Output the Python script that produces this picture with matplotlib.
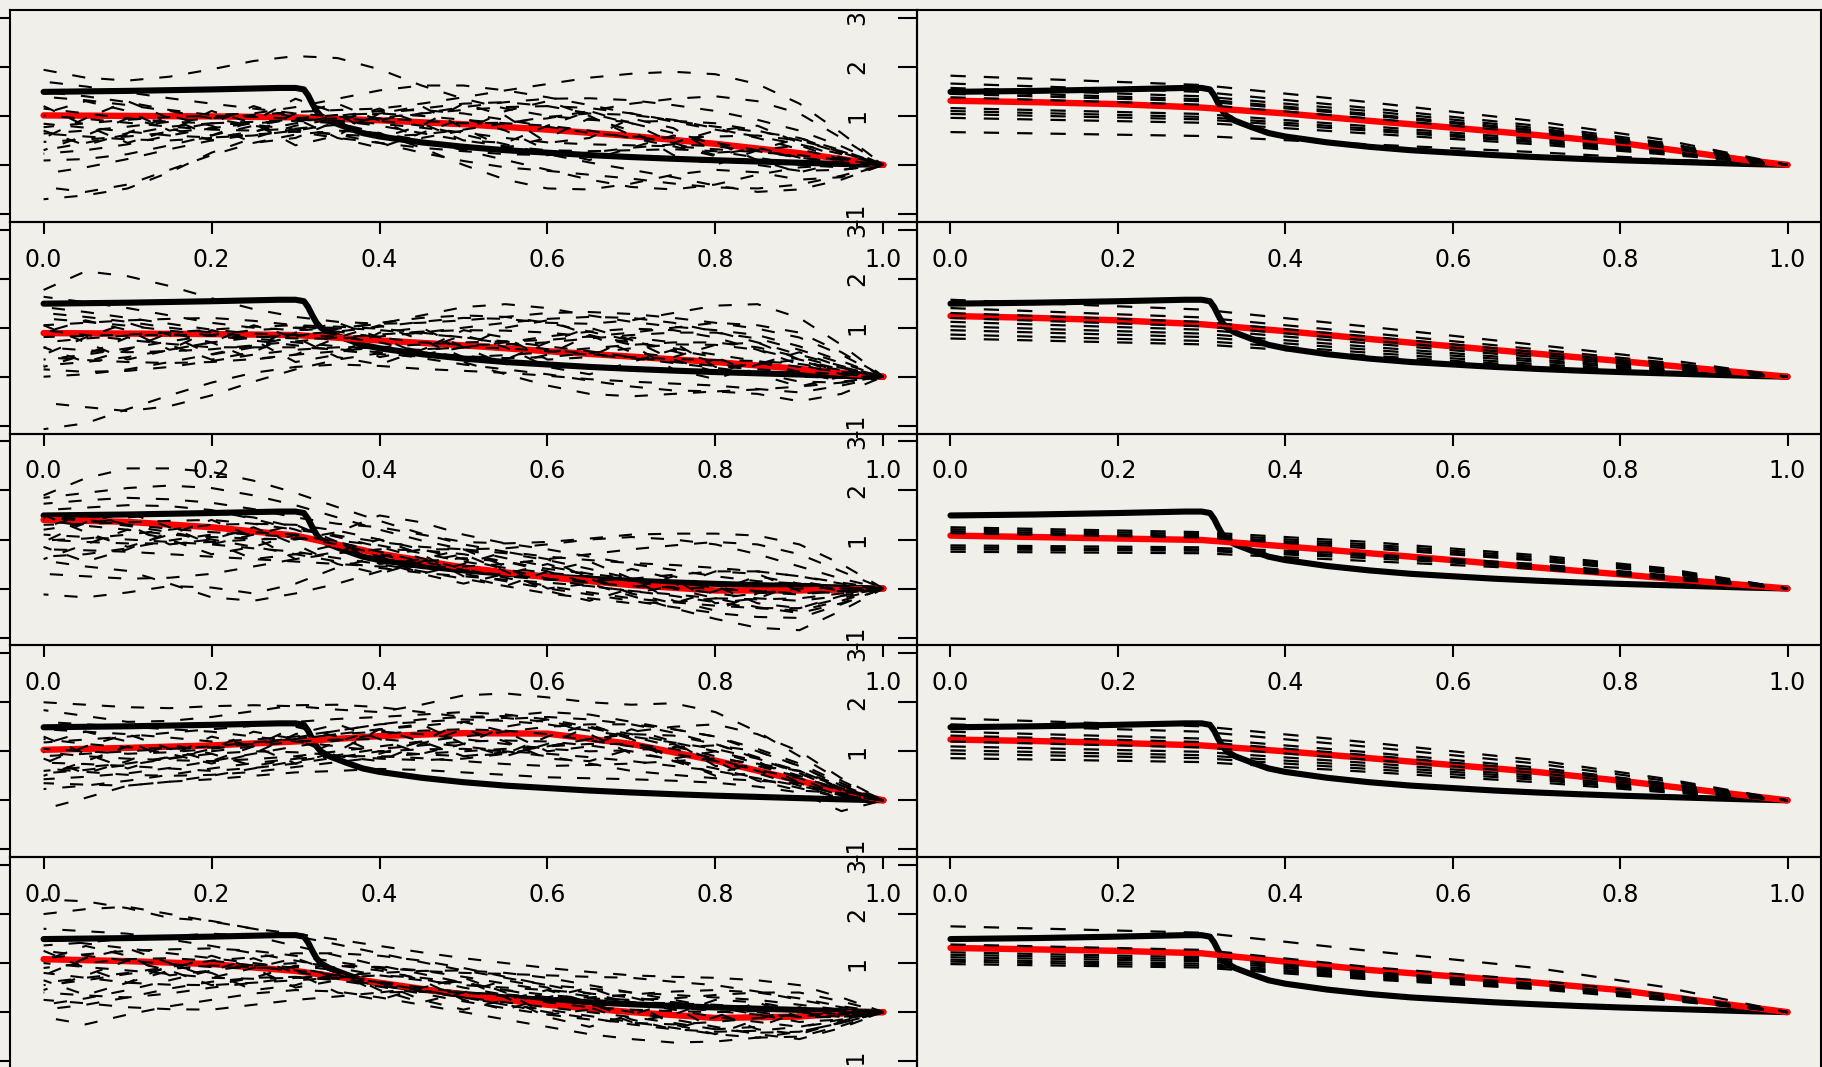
import matplotlib
matplotlib.use("Agg")
import matplotlib.pyplot as plt

plt.rcParams['font.family'] = ['DejaVu Sans']
plt.rcParams['lines.scale_dashes'] = False

bg = '#f0efe9'

# common thick black curve (same in every panel)
x_black = [0.0, 0.1, 0.2, 0.28, 0.30, 0.31, 0.315, 0.32, 0.325, 0.33, 0.34, 0.36,
           0.38, 0.40, 0.45, 0.50, 0.55, 0.60, 0.65, 0.70, 0.75, 0.80, 0.85, 0.90, 0.95, 1.0]
black = [1.49, 1.51, 1.54, 1.57, 1.57, 1.54, 1.42, 1.25, 1.10, 1.00, 0.90, 0.77,
         0.65, 0.58, 0.46, 0.37, 0.30, 0.25, 0.20, 0.16, 0.125, 0.095, 0.07, 0.045, 0.02, 0.0]

# grid for the red curves
x_red = [0.0, 0.1, 0.2, 0.3, 0.4, 0.5, 0.6, 0.7, 0.8, 0.9, 0.95, 1.0]
# grid for the wavy dashed curves (left column)
x_wavy = [0.0, 0.05, 0.1, 0.15, 0.2, 0.25, 0.3, 0.35, 0.4, 0.45, 0.5,
          0.55, 0.6, 0.65, 0.7, 0.75, 0.8, 0.85, 0.9, 0.95, 1.0]
# grid for the fan of dashed lines (right column)
x_fan = [0.0, 0.3, 0.5, 0.7, 0.85, 1.0]

red_left = [
    [1.01, 1.00, 0.99, 0.97, 0.91, 0.83, 0.72, 0.59, 0.43, 0.24, 0.12, 0.0],
    [0.89, 0.88, 0.87, 0.85, 0.74, 0.64, 0.52, 0.41, 0.30, 0.16, 0.08, 0.0],
    [1.40, 1.36, 1.25, 1.08, 0.71, 0.43, 0.23, 0.07, -0.04, -0.04, -0.02, 0.0],
    [1.03, 1.07, 1.12, 1.20, 1.31, 1.37, 1.36, 1.15, 0.81, 0.40, 0.19, 0.0],
    [1.08, 1.04, 0.98, 0.84, 0.60, 0.35, 0.15, 0.00, -0.12, -0.09, -0.03, 0.0],
]
red_right = [
    [1.31, 1.28, 1.24, 1.17, 1.05, 0.90, 0.76, 0.61, 0.45, 0.22, 0.10, 0.0],
    [1.24, 1.20, 1.15, 1.07, 0.93, 0.77, 0.62, 0.47, 0.32, 0.16, 0.08, 0.0],
    [1.08, 1.05, 1.02, 0.99, 0.86, 0.72, 0.58, 0.43, 0.29, 0.14, 0.07, 0.0],
    [1.24, 1.21, 1.17, 1.12, 1.00, 0.86, 0.72, 0.58, 0.40, 0.20, 0.10, 0.0],
    [1.31, 1.28, 1.25, 1.20, 1.03, 0.86, 0.73, 0.60, 0.45, 0.22, 0.11, 0.0],
]

wavy1 = [
    [1.94, 1.78, 1.72, 1.80, 1.95, 2.12, 2.22, 2.18, 1.95, 1.62, 1.35, 1.15, 1.00, 0.92, 0.88, 0.90, 0.85, 0.70, 0.50, 0.25, 0],
    [-0.70, -0.62, -0.48, -0.15, 0.25, 0.55, 0.80, 0.95, 1.05, 1.15, 1.25, 1.28, 1.20, 1.05, 0.85, 0.65, 0.45, 0.30, 0.15, 0.05, 0],
    [-0.45, -0.55, -0.40, -0.10, 0.20, 0.45, 0.62, 0.70, 0.65, 0.50, 0.30, 0.10, -0.10, -0.30, -0.45, -0.50, -0.40, -0.20, -0.05, 0.00, 0],
    [0.64, 0.70, 0.78, 0.88, 0.95, 1.02, 1.08, 1.12, 1.15, 1.25, 1.38, 1.52, 1.65, 1.78, 1.86, 1.90, 1.85, 1.65, 1.25, 0.65, 0],
    [0.23, 0.30, 0.42, 0.60, 0.75, 0.85, 0.90, 0.85, 0.65, 0.35, 0.00, -0.30, -0.48, -0.50, -0.38, -0.20, -0.10, -0.15, -0.30, -0.25, 0],
    [1.49, 1.40, 1.28, 1.12, 1.02, 1.05, 1.18, 1.35, 1.52, 1.62, 1.62, 1.52, 1.38, 1.22, 1.05, 0.88, 0.72, 0.58, 0.42, 0.22, 0],
    [0.84, 0.76, 0.68, 0.60, 0.56, 0.60, 0.70, 0.84, 0.96, 1.05, 1.12, 1.18, 1.20, 1.16, 1.05, 0.90, 0.78, 0.68, 0.55, 0.30, 0],
    [0.47, 0.52, 0.58, 0.66, 0.75, 0.85, 0.92, 0.95, 0.90, 0.80, 0.62, 0.42, 0.22, 0.05, -0.10, -0.25, -0.42, -0.55, -0.50, -0.30, 0],
    [1.39, 1.32, 1.22, 1.10, 0.95, 0.80, 0.68, 0.55, 0.45, 0.35, 0.28, 0.22, 0.20, 0.25, 0.35, 0.42, 0.38, 0.28, 0.15, 0.05, 0],
    [0.09, 0.12, 0.22, 0.40, 0.60, 0.80, 0.95, 1.02, 1.05, 1.00, 0.92, 0.85, 0.80, 0.70, 0.55, 0.38, 0.18, 0.00, -0.12, -0.10, 0],
    [-0.18, -0.05, 0.12, 0.32, 0.50, 0.62, 0.68, 0.62, 0.45, 0.25, 0.08, -0.05, -0.12, -0.20, -0.28, -0.38, -0.46, -0.48, -0.40, -0.22, 0],
    [1.70, 1.60, 1.48, 1.36, 1.25, 1.15, 1.05, 0.98, 0.95, 0.90, 0.85, 0.86, 0.95, 1.10, 1.25, 1.35, 1.40, 1.30, 1.05, 0.55, 0],
    [0.77, 0.85, 0.92, 0.98, 1.00, 0.98, 0.94, 0.90, 0.84, 0.76, 0.66, 0.55, 0.46, 0.42, 0.40, 0.38, 0.32, 0.26, 0.20, 0.10, 0],
    [1.01, 0.94, 0.86, 0.78, 0.72, 0.70, 0.74, 0.82, 0.92, 1.05, 1.18, 1.28, 1.35, 1.36, 1.32, 1.22, 1.10, 0.92, 0.70, 0.38, 0],
    [0.64, 0.58, 0.52, 0.50, 0.55, 0.68, 0.85, 1.00, 1.10, 1.12, 1.05, 0.92, 0.78, 0.65, 0.58, 0.55, 0.58, 0.60, 0.50, 0.28, 0],
    [1.15, 1.05, 0.95, 0.88, 0.85, 0.88, 0.92, 0.90, 0.80, 0.65, 0.50, 0.38, 0.30, 0.28, 0.30, 0.32, 0.28, 0.15, 0.00, -0.05, 0],
    [0.30, 0.45, 0.62, 0.78, 0.85, 0.82, 0.72, 0.62, 0.58, 0.62, 0.72, 0.85, 0.98, 1.05, 1.02, 0.92, 0.75, 0.55, 0.32, 0.12, 0],
    [0.55, 0.95, 1.30, 0.95, 0.60, 0.90, 1.35, 1.05, 0.55, 0.80, 1.25, 1.00, 0.45, 0.55, 0.95, 0.75, 0.25, 0.30, 0.55, 0.25, 0],
    [1.20, 0.80, 0.45, 0.70, 1.10, 0.85, 0.40, 0.60, 1.05, 1.20, 0.75, 0.35, 0.55, 0.95, 0.70, 0.20, 0.00, 0.30, 0.40, 0.10, 0],
    [0.30, 0.60, 0.95, 0.75, 0.50, 0.65, 1.05, 1.25, 0.90, 0.55, 0.70, 1.10, 1.30, 1.00, 0.60, 0.45, 0.70, 0.80, 0.45, 0.15, 0],
    [1.05, 1.30, 1.10, 0.70, 0.85, 1.20, 0.95, 0.55, 0.35, 0.65, 0.95, 0.70, 0.30, 0.10, 0.35, 0.60, 0.45, 0.10, -0.15, 0.05, 0],
    [0.70, 0.40, 0.65, 1.00, 0.80, 0.45, 0.55, 0.90, 1.15, 0.85, 0.50, 0.45, 0.80, 1.10, 0.85, 0.45, 0.20, 0.35, 0.15, -0.10, 0],
]
wavy2 = [
    [1.77, 2.15, 2.05, 1.85, 1.60, 1.38, 1.22, 1.12, 1.08, 1.10, 1.15, 1.22, 1.30, 1.32, 1.28, 1.20, 1.10, 0.98, 0.80, 0.45, 0],
    [-1.07, -0.95, -0.66, -0.38, -0.12, 0.08, 0.20, 0.25, 0.22, 0.16, 0.12, 0.08, 0.02, -0.05, -0.10, -0.14, -0.18, -0.25, -0.32, -0.18, 0],
    [-0.53, -0.62, -0.70, -0.60, -0.38, -0.10, 0.15, 0.35, 0.48, 0.56, 0.60, 0.58, 0.52, 0.45, 0.38, 0.28, 0.18, 0.08, 0.00, -0.02, 0],
    [1.63, 1.52, 1.40, 1.25, 1.10, 1.00, 0.95, 0.98, 1.08, 1.25, 1.42, 1.48, 1.40, 1.25, 1.12, 1.02, 0.95, 0.85, 0.62, 0.32, 0],
    [0.23, 0.30, 0.40, 0.55, 0.70, 0.80, 0.85, 0.82, 0.70, 0.52, 0.30, 0.05, -0.18, -0.35, -0.40, -0.35, -0.30, -0.35, -0.50, -0.35, 0],
    [1.42, 1.32, 1.20, 1.08, 0.96, 0.88, 0.86, 0.92, 1.02, 1.12, 1.20, 1.18, 1.10, 1.08, 1.15, 1.30, 1.45, 1.48, 1.20, 0.65, 0],
    [0.81, 0.83, 0.86, 0.90, 0.96, 1.02, 1.05, 1.02, 0.98, 0.90, 0.80, 0.68, 0.56, 0.46, 0.40, 0.36, 0.34, 0.32, 0.26, 0.14, 0],
    [0.60, 0.54, 0.50, 0.52, 0.56, 0.64, 0.72, 0.80, 0.86, 0.92, 0.95, 0.94, 0.90, 0.82, 0.70, 0.58, 0.45, 0.32, 0.20, 0.10, 0],
    [1.19, 1.12, 1.04, 0.94, 0.84, 0.74, 0.64, 0.54, 0.46, 0.41, 0.40, 0.44, 0.50, 0.58, 0.65, 0.70, 0.70, 0.60, 0.40, 0.18, 0],
    [0.00, 0.05, 0.15, 0.30, 0.46, 0.64, 0.82, 0.98, 1.10, 1.20, 1.25, 1.22, 1.10, 0.92, 0.74, 0.52, 0.30, 0.08, -0.10, -0.12, 0],
    [0.40, 0.34, 0.30, 0.28, 0.30, 0.36, 0.45, 0.52, 0.60, 0.66, 0.70, 0.72, 0.75, 0.82, 0.90, 1.00, 1.10, 1.05, 0.90, 0.50, 0],
    [0.95, 0.85, 0.75, 0.67, 0.60, 0.60, 0.60, 0.56, 0.50, 0.38, 0.25, 0.15, 0.05, -0.08, -0.20, -0.28, -0.30, -0.26, -0.20, -0.12, 0],
    [1.05, 1.10, 1.15, 1.18, 1.20, 1.14, 1.05, 0.92, 0.80, 0.70, 0.65, 0.66, 0.70, 0.78, 0.85, 0.90, 0.90, 0.78, 0.55, 0.28, 0],
    [0.35, 0.45, 0.58, 0.72, 0.85, 0.95, 1.00, 1.00, 0.95, 0.88, 0.80, 0.72, 0.62, 0.52, 0.40, 0.30, 0.22, 0.15, 0.10, 0.05, 0],
    [1.30, 1.22, 1.12, 1.00, 0.90, 0.82, 0.78, 0.78, 0.82, 0.90, 1.00, 1.10, 1.18, 1.22, 1.20, 1.10, 0.92, 0.70, 0.45, 0.22, 0],
    [0.15, 0.10, 0.12, 0.20, 0.32, 0.45, 0.55, 0.60, 0.58, 0.50, 0.42, 0.38, 0.40, 0.48, 0.58, 0.66, 0.65, 0.55, 0.35, 0.15, 0],
    [0.70, 0.78, 0.84, 0.86, 0.84, 0.78, 0.70, 0.62, 0.56, 0.55, 0.60, 0.70, 0.82, 0.92, 0.98, 0.95, 0.80, 0.55, 0.25, 0.05, 0],
    [0.45, 0.80, 1.10, 0.85, 0.45, 0.60, 1.00, 0.85, 0.40, 0.55, 0.95, 0.80, 0.35, 0.40, 0.80, 0.70, 0.20, 0.25, 0.50, 0.20, 0],
    [1.05, 0.70, 0.35, 0.55, 0.95, 0.75, 0.30, 0.45, 0.90, 1.00, 0.60, 0.25, 0.45, 0.85, 0.65, 0.15, -0.05, 0.25, 0.35, 0.05, 0],
    [0.20, 0.45, 0.80, 0.65, 0.35, 0.50, 0.90, 1.10, 0.80, 0.45, 0.60, 1.00, 1.15, 0.85, 0.50, 0.40, 0.65, 0.70, 0.35, 0.10, 0],
    [0.90, 1.15, 0.95, 0.55, 0.70, 1.05, 0.80, 0.40, 0.25, 0.55, 0.85, 0.60, 0.20, 0.05, 0.30, 0.55, 0.40, 0.05, -0.20, 0.00, 0],
    [0.60, 0.30, 0.55, 0.90, 0.70, 0.35, 0.45, 0.80, 1.05, 0.75, 0.40, 0.35, 0.70, 1.00, 0.75, 0.35, 0.10, 0.30, 0.10, -0.10, 0],
]
wavy3 = [
    [1.90, 2.25, 2.45, 2.45, 2.38, 2.20, 1.95, 1.66, 1.38, 1.12, 0.90, 0.75, 0.65, 0.58, 0.52, 0.48, 0.42, 0.35, 0.25, 0.12, 0],
    [-0.12, -0.18, -0.08, 0.05, 0.02, -0.10, 0.10, 0.43, 0.65, 0.80, 0.80, 0.72, 0.58, 0.40, 0.20, 0.00, -0.20, -0.38, -0.50, -0.30, 0],
    [0.57, 0.45, 0.36, 0.10, -0.18, -0.25, -0.10, 0.10, 0.35, 0.55, 0.62, 0.55, 0.35, 0.10, -0.15, -0.40, -0.62, -0.80, -0.85, -0.45, 0],
    [1.73, 1.80, 1.85, 1.82, 1.75, 1.62, 1.45, 1.32, 1.25, 1.10, 0.95, 0.92, 0.95, 1.02, 1.10, 1.12, 1.12, 1.08, 0.90, 0.50, 0],
    [1.39, 1.28, 1.20, 1.10, 1.05, 1.02, 1.00, 1.15, 1.49, 1.35, 1.10, 0.92, 0.80, 0.65, 0.50, 0.38, 0.25, 0.15, 0.10, 0.05, 0],
    [0.98, 1.02, 1.10, 1.20, 1.30, 1.32, 1.30, 1.18, 1.00, 0.80, 0.60, 0.40, 0.20, 0.05, -0.05, -0.12, -0.20, -0.22, -0.20, -0.10, 0],
    [1.20, 1.32, 1.45, 1.52, 1.55, 1.45, 1.25, 1.05, 0.85, 0.62, 0.40, 0.22, 0.05, -0.08, -0.20, -0.28, -0.35, -0.40, -0.40, -0.20, 0],
    [1.50, 1.40, 1.30, 1.22, 1.15, 1.10, 1.05, 0.90, 0.70, 0.50, 0.30, 0.15, 0.00, -0.12, -0.25, -0.38, -0.50, -0.58, -0.60, -0.32, 0],
    [0.80, 0.78, 0.75, 0.70, 0.65, 0.60, 0.55, 0.50, 0.45, 0.44, 0.45, 0.50, 0.60, 0.70, 0.80, 0.88, 0.95, 0.90, 0.70, 0.35, 0],
    [1.10, 1.05, 1.00, 0.95, 0.90, 0.82, 0.75, 0.62, 0.50, 0.35, 0.20, 0.05, -0.10, -0.20, -0.30, -0.28, -0.20, -0.10, 0.00, 0.02, 0],
    [1.60, 1.65, 1.70, 1.68, 1.60, 1.42, 1.20, 0.92, 0.65, 0.48, 0.35, 0.28, 0.20, 0.12, 0.05, 0.02, 0.00, -0.05, -0.10, -0.05, 0],
    [0.30, 0.25, 0.20, 0.22, 0.30, 0.45, 0.60, 0.72, 0.80, 0.78, 0.70, 0.55, 0.40, 0.30, 0.20, 0.15, 0.10, 0.10, 0.10, 0.05, 0],
    [1.30, 1.32, 1.35, 1.38, 1.40, 1.32, 1.20, 1.08, 0.95, 0.85, 0.80, 0.82, 0.90, 1.00, 1.05, 1.00, 0.90, 0.70, 0.45, 0.20, 0],
    [1.45, 1.38, 1.28, 1.15, 1.00, 0.85, 0.70, 0.55, 0.42, 0.32, 0.25, 0.18, 0.12, 0.05, -0.05, -0.15, -0.28, -0.40, -0.45, -0.25, 0],
    [0.65, 0.70, 0.82, 0.98, 1.10, 1.15, 1.10, 0.95, 0.75, 0.55, 0.38, 0.25, 0.18, 0.15, 0.20, 0.28, 0.35, 0.35, 0.25, 0.10, 0],
    [1.85, 1.95, 2.05, 2.10, 2.05, 1.90, 1.70, 1.45, 1.20, 0.98, 0.80, 0.62, 0.45, 0.30, 0.15, 0.02, -0.10, -0.20, -0.25, -0.15, 0],
    [1.00, 0.95, 0.92, 0.92, 0.95, 1.00, 1.02, 0.98, 0.88, 0.72, 0.55, 0.42, 0.32, 0.25, 0.20, 0.12, 0.02, -0.08, -0.12, -0.05, 0],
    [0.95, 1.35, 1.55, 1.25, 0.90, 1.10, 1.30, 0.95, 0.50, 0.60, 0.80, 0.45, 0.00, 0.10, 0.40, 0.20, -0.30, -0.20, 0.10, -0.05, 0],
    [1.50, 1.15, 0.85, 1.10, 1.40, 1.05, 0.60, 0.75, 1.00, 0.70, 0.25, 0.05, 0.35, 0.55, 0.20, -0.25, -0.45, -0.10, 0.15, 0.00, 0],
    [0.60, 0.90, 1.20, 1.00, 0.70, 0.85, 1.10, 0.95, 0.55, 0.30, 0.50, 0.75, 0.60, 0.20, -0.10, 0.05, 0.35, 0.30, -0.05, -0.10, 0],
    [1.25, 1.50, 1.30, 0.90, 1.00, 1.25, 0.90, 0.50, 0.30, 0.55, 0.70, 0.35, -0.05, -0.25, 0.00, 0.25, 0.05, -0.30, -0.40, -0.15, 0],
    [0.85, 0.55, 0.80, 1.15, 0.95, 0.60, 0.70, 0.90, 0.65, 0.30, 0.10, 0.30, 0.50, 0.25, -0.10, -0.30, -0.05, 0.25, 0.10, -0.05, 0],
]
wavy4 = [
    [2.00, 1.95, 1.90, 1.88, 1.92, 1.94, 1.92, 1.85, 1.80, 1.95, 2.14, 2.18, 2.10, 2.00, 1.95, 1.98, 1.80, 1.40, 0.90, 0.40, 0],
    [1.84, 1.72, 1.60, 1.62, 1.70, 1.82, 1.94, 1.95, 1.90, 1.80, 1.70, 1.72, 1.80, 1.75, 1.60, 1.45, 1.30, 1.05, 0.75, 0.35, 0],
    [-0.18, 0.05, 0.30, 0.38, 0.43, 0.50, 0.57, 0.60, 0.64, 0.62, 0.57, 0.52, 0.47, 0.45, 0.43, 0.40, 0.36, 0.28, 0.16, -0.22, 0],
    [1.18, 1.24, 1.30, 1.38, 1.45, 1.52, 1.60, 1.66, 1.70, 1.75, 1.80, 1.75, 1.65, 1.50, 1.35, 1.18, 1.00, 0.75, 0.50, 0.20, 0],
    [0.98, 0.90, 0.85, 0.82, 0.80, 0.84, 0.90, 1.00, 1.10, 1.20, 1.30, 1.40, 1.50, 1.55, 1.55, 1.45, 1.30, 1.00, 0.70, 0.30, 0],
    [0.77, 0.74, 0.70, 0.65, 0.60, 0.66, 0.75, 0.88, 1.00, 1.04, 1.05, 1.00, 0.95, 0.88, 0.80, 0.70, 0.60, 0.45, 0.30, 0.10, 0],
    [0.43, 0.48, 0.55, 0.66, 0.80, 0.95, 1.10, 1.22, 1.35, 1.42, 1.45, 1.42, 1.35, 1.22, 1.10, 0.95, 0.80, 0.62, 0.45, 0.20, 0],
    [0.23, 0.30, 0.40, 0.52, 0.65, 0.76, 0.85, 0.90, 0.90, 0.86, 0.80, 0.74, 0.70, 0.72, 0.75, 0.80, 0.85, 0.75, 0.60, 0.30, 0],
    [1.45, 1.40, 1.35, 1.28, 1.20, 1.24, 1.30, 1.42, 1.55, 1.60, 1.65, 1.62, 1.55, 1.42, 1.30, 1.18, 1.05, 0.85, 0.60, 0.25, 0],
    [0.60, 0.68, 0.75, 0.88, 1.00, 1.10, 1.20, 1.24, 1.25, 1.18, 1.10, 1.00, 0.90, 0.75, 0.60, 0.52, 0.45, 0.40, 0.35, 0.10, 0],
    [1.60, 1.55, 1.50, 1.45, 1.40, 1.30, 1.20, 1.10, 1.00, 0.94, 0.90, 0.98, 1.10, 1.25, 1.40, 1.50, 1.55, 1.35, 1.00, 0.45, 0],
    [0.90, 0.95, 1.00, 1.05, 1.10, 1.18, 1.25, 1.35, 1.45, 1.52, 1.60, 1.66, 1.70, 1.65, 1.55, 1.38, 1.15, 0.85, 0.55, 0.25, 0],
    [0.35, 0.32, 0.30, 0.38, 0.50, 0.65, 0.80, 0.92, 1.05, 1.12, 1.20, 1.22, 1.20, 1.12, 1.00, 0.82, 0.65, 0.45, 0.25, 0.05, 0],
    [1.25, 1.15, 1.08, 1.05, 1.08, 1.15, 1.25, 1.35, 1.40, 1.35, 1.25, 1.15, 1.05, 1.00, 1.02, 1.08, 1.12, 1.00, 0.70, 0.30, 0],
    [0.55, 0.62, 0.72, 0.85, 0.95, 1.00, 0.98, 0.92, 0.85, 0.82, 0.85, 0.95, 1.10, 1.25, 1.35, 1.32, 1.15, 0.88, 0.55, 0.20, 0],
    [1.05, 1.00, 0.95, 0.98, 1.05, 1.15, 1.28, 1.42, 1.55, 1.65, 1.70, 1.68, 1.60, 1.48, 1.30, 1.10, 0.90, 0.70, 0.48, 0.22, 0],
    [0.65, 0.58, 0.52, 0.50, 0.52, 0.58, 0.68, 0.78, 0.88, 0.95, 1.00, 1.05, 1.10, 1.15, 1.15, 1.05, 0.85, 0.60, 0.35, 0.12, 0],
    [0.75, 1.10, 1.35, 1.05, 0.80, 1.10, 1.50, 1.30, 0.95, 1.20, 1.60, 1.40, 1.00, 1.10, 1.45, 1.20, 0.70, 0.70, 0.60, 0.25, 0],
    [1.30, 0.95, 0.65, 0.90, 1.30, 1.10, 0.75, 1.00, 1.45, 1.55, 1.15, 0.90, 1.15, 1.50, 1.25, 0.80, 0.55, 0.75, 0.45, 0.10, 0],
    [0.50, 0.80, 1.10, 0.95, 0.75, 0.95, 1.35, 1.55, 1.25, 0.95, 1.15, 1.50, 1.65, 1.35, 0.95, 0.85, 1.00, 0.80, 0.35, 0.10, 0],
    [1.15, 1.40, 1.20, 0.85, 1.05, 1.40, 1.25, 0.90, 0.80, 1.15, 1.45, 1.20, 0.85, 0.80, 1.05, 1.15, 0.80, 0.40, 0.20, 0.15, 0],
    [0.85, 0.55, 0.80, 1.15, 0.95, 0.70, 0.85, 1.20, 1.45, 1.20, 0.90, 0.95, 1.30, 1.55, 1.25, 0.85, 0.50, 0.55, 0.30, 0.05, 0],
]
wavy5 = [
    [2.00, 2.10, 2.15, 2.00, 1.85, 1.70, 1.55, 1.38, 1.20, 1.02, 0.85, 0.70, 0.55, 0.48, 0.40, 0.35, 0.30, 0.25, 0.15, 0.05, 0],
    [2.30, 2.26, 2.12, 1.92, 1.86, 1.70, 1.60, 1.48, 1.35, 1.22, 1.10, 1.00, 0.90, 0.82, 0.75, 0.72, 0.70, 0.65, 0.55, 0.30, 0],
    [-0.10, -0.25, -0.05, 0.12, 0.25, 0.38, 0.45, 0.42, 0.30, 0.15, 0.00, -0.15, -0.30, -0.45, -0.55, -0.62, -0.60, -0.52, -0.40, -0.22, 0],
    [1.36, 1.42, 1.50, 1.55, 1.60, 1.55, 1.35, 1.15, 0.95, 0.78, 0.60, 0.45, 0.35, 0.28, 0.25, 0.28, 0.35, 0.40, 0.40, 0.22, 0],
    [0.40, 0.34, 0.30, 0.38, 0.50, 0.60, 0.70, 0.68, 0.60, 0.45, 0.30, 0.15, 0.05, -0.08, -0.20, -0.32, -0.45, -0.52, -0.50, -0.28, 0],
    [1.10, 1.18, 1.25, 1.28, 1.30, 1.25, 1.15, 1.02, 0.90, 0.84, 0.80, 0.78, 0.75, 0.72, 0.70, 0.62, 0.55, 0.42, 0.25, 0.10, 0],
    [0.80, 0.70, 0.60, 0.56, 0.55, 0.60, 0.65, 0.70, 0.75, 0.70, 0.60, 0.45, 0.30, 0.15, 0.00, -0.15, -0.30, -0.45, -0.55, -0.32, 0],
    [1.70, 1.65, 1.60, 1.48, 1.35, 1.20, 1.05, 0.90, 0.75, 0.65, 0.55, 0.50, 0.45, 0.38, 0.30, 0.20, 0.10, 0.00, -0.10, -0.10, 0],
    [0.15, 0.28, 0.45, 0.65, 0.85, 0.95, 1.00, 0.95, 0.85, 0.68, 0.50, 0.35, 0.20, 0.10, 0.05, 0.02, 0.00, 0.02, 0.05, 0.02, 0],
    [1.00, 0.92, 0.85, 0.78, 0.70, 0.68, 0.70, 0.75, 0.80, 0.84, 0.85, 0.80, 0.70, 0.55, 0.40, 0.25, 0.10, -0.05, -0.20, -0.15, 0],
    [0.60, 0.70, 0.80, 0.92, 1.05, 1.12, 1.20, 1.20, 1.15, 1.05, 0.90, 0.72, 0.55, 0.38, 0.20, 0.05, -0.10, -0.20, -0.30, -0.18, 0],
    [1.50, 1.40, 1.30, 1.20, 1.10, 1.00, 0.90, 0.75, 0.60, 0.45, 0.30, 0.15, 0.00, -0.12, -0.25, -0.35, -0.40, -0.38, -0.30, -0.15, 0],
    [0.25, 0.18, 0.10, 0.06, 0.05, 0.15, 0.25, 0.32, 0.40, 0.42, 0.40, 0.36, 0.30, 0.25, 0.20, 0.18, 0.15, 0.10, 0.05, 0.02, 0],
    [0.55, 0.65, 0.78, 0.88, 0.95, 0.92, 0.85, 0.75, 0.62, 0.50, 0.40, 0.32, 0.28, 0.30, 0.36, 0.42, 0.45, 0.40, 0.28, 0.12, 0],
    [1.25, 1.15, 1.05, 0.98, 0.92, 0.90, 0.92, 0.95, 0.92, 0.85, 0.72, 0.58, 0.45, 0.32, 0.20, 0.10, 0.02, -0.05, -0.08, -0.05, 0],
    [0.90, 1.00, 1.08, 1.10, 1.05, 0.95, 0.82, 0.68, 0.55, 0.42, 0.30, 0.20, 0.10, 0.00, -0.10, -0.22, -0.35, -0.42, -0.40, -0.22, 0],
    [0.05, 0.15, 0.30, 0.48, 0.62, 0.70, 0.72, 0.65, 0.52, 0.38, 0.22, 0.08, -0.05, -0.15, -0.22, -0.25, -0.20, -0.12, -0.05, -0.02, 0],
    [0.75, 1.10, 1.30, 1.00, 0.70, 0.90, 1.10, 0.80, 0.40, 0.50, 0.70, 0.40, -0.05, 0.05, 0.30, 0.10, -0.35, -0.30, 0.00, -0.10, 0],
    [1.25, 0.90, 0.60, 0.85, 1.15, 0.90, 0.50, 0.65, 0.90, 0.65, 0.25, 0.05, 0.30, 0.50, 0.20, -0.25, -0.45, -0.15, 0.10, 0.00, 0],
    [0.45, 0.75, 1.05, 0.85, 0.55, 0.70, 0.95, 0.85, 0.45, 0.20, 0.40, 0.65, 0.50, 0.10, -0.20, -0.05, 0.25, 0.20, -0.10, -0.10, 0],
    [1.05, 1.35, 1.15, 0.75, 0.85, 1.10, 0.80, 0.40, 0.25, 0.50, 0.65, 0.30, -0.10, -0.30, -0.05, 0.20, 0.00, -0.35, -0.45, -0.20, 0],
    [0.65, 0.35, 0.60, 0.95, 0.80, 0.45, 0.55, 0.80, 0.60, 0.25, 0.05, 0.25, 0.45, 0.20, -0.15, -0.35, -0.10, 0.20, 0.05, -0.05, 0],
]

fan1 = [
    [1.82, 1.63, 1.28, 0.89, 0.52, 0],
    [1.66, 1.49, 1.16, 0.80, 0.46, 0],
    [1.57, 1.40, 1.10, 0.75, 0.43, 0],
    [1.50, 1.34, 1.04, 0.71, 0.41, 0],
    [1.45, 1.30, 1.01, 0.69, 0.39, 0],
    [1.38, 1.23, 0.95, 0.65, 0.36, 0],
    [1.16, 1.04, 0.79, 0.53, 0.29, 0],
    [1.10, 0.98, 0.74, 0.49, 0.27, 0],
    [1.04, 0.93, 0.70, 0.46, 0.25, 0],
    [0.96, 0.86, 0.64, 0.42, 0.22, 0],
    [0.67, 0.59, 0.42, 0.26, 0.12, 0],
]
fan2 = [
    [1.57, 1.37, 1.02, 0.65, 0.36, 0],
    [1.40, 1.21, 0.89, 0.56, 0.30, 0],
    [1.30, 1.12, 0.82, 0.50, 0.26, 0],
    [1.20, 1.03, 0.74, 0.45, 0.23, 0],
    [1.12, 0.96, 0.68, 0.40, 0.20, 0],
    [1.03, 0.88, 0.61, 0.35, 0.17, 0],
    [0.95, 0.81, 0.55, 0.31, 0.14, 0],
    [0.86, 0.73, 0.49, 0.26, 0.11, 0],
    [0.78, 0.66, 0.43, 0.22, 0.08, 0],
]
fan3 = [
    [1.25, 1.15, 0.95, 0.68, 0.42, 0],
    [1.21, 1.11, 0.90, 0.64, 0.39, 0],
    [1.17, 1.07, 0.86, 0.60, 0.36, 0],
    [1.13, 1.04, 0.82, 0.57, 0.33, 0],
    [0.88, 0.84, 0.70, 0.50, 0.28, 0],
    [0.84, 0.80, 0.66, 0.47, 0.25, 0],
    [0.80, 0.77, 0.62, 0.44, 0.23, 0],
    [0.75, 0.72, 0.56, 0.40, 0.20, 0],
]
fan4 = [
    [1.67, 1.51, 1.18, 0.82, 0.45, 0],
    [1.55, 1.40, 1.09, 0.75, 0.41, 0],
    [1.40, 1.26, 0.98, 0.67, 0.36, 0],
    [1.32, 1.19, 0.92, 0.62, 0.33, 0],
    [1.20, 1.08, 0.83, 0.56, 0.29, 0],
    [1.10, 0.99, 0.76, 0.50, 0.25, 0],
    [1.02, 0.92, 0.70, 0.46, 0.22, 0],
    [0.95, 0.86, 0.64, 0.42, 0.20, 0],
    [0.86, 0.78, 0.58, 0.37, 0.17, 0],
]
fan5 = [
    [1.75, 1.62, 1.25, 0.90, 0.52, 0],
    [1.38, 1.27, 0.92, 0.65, 0.37, 0],
    [1.22, 1.12, 0.82, 0.58, 0.32, 0],
    [1.17, 1.08, 0.79, 0.56, 0.31, 0],
    [1.12, 1.04, 0.76, 0.54, 0.29, 0],
    [1.07, 0.99, 0.73, 0.51, 0.28, 0],
    [1.03, 0.95, 0.70, 0.49, 0.26, 0],
    [0.98, 0.91, 0.67, 0.47, 0.25, 0],
]

wavy = [wavy1, wavy2, wavy3, wavy4, wavy5]
fans = [fan1, fan2, fan3, fan4, fan5]

# dash phase for each wavy curve, so the dashes do not line up in columns
dash_phase = [0, 6, 12, 3, 9, 15, 1.5, 7.5, 13.5, 4.5, 10.5,
              16.5, 2, 8, 14, 5, 11, 17, 0.5, 6.5, 12.5, 3.5]

x_ticks = [0.0, 0.2, 0.4, 0.6, 0.8, 1.0]
x_labels = ['0.0', '0.2', '0.4', '0.6', '0.8', '1.0']
y_ticks = [-1, 0, 1, 2, 3]
y_labels = ['-1', '', '1', '2', '3']

W, H = 1822, 1067
fig = plt.figure(figsize=(W / 100, H / 100), dpi=100, facecolor=bg)
row_h = 211.8
cols = [(10, 907), (917, 904)]

for r in range(5):
    top = 10 + r * row_h
    for c in range(2):
        x0, w = cols[c]
        ax = fig.add_axes([x0 / W, 1 - (top + row_h) / H, w / W, row_h / H])
        ax.set_facecolor('none')
        ax.set_xlim(-0.04, 1.04)
        ax.set_ylim(-1.16, 3.16)

        ax.plot(x_black, black, color='black', lw=4.4, solid_capstyle='round',
                solid_joinstyle='round', zorder=2)
        if c == 0:
            ax.plot(x_red, red_left[r], color='red', lw=4.6,
                    solid_capstyle='round', zorder=3)
            for i, d in enumerate(wavy[r]):
                ax.plot(x_wavy, d, color='black', lw=1.5, zorder=4,
                        linestyle=(dash_phase[i], (9.5, 11.5)))
        else:
            ax.plot(x_red, red_right[r], color='red', lw=4.6,
                    solid_capstyle='round', zorder=3)
            for d in fans[r]:
                ax.plot(x_fan, d, color='black', lw=1.6, dashes=(11.0, 13.0), zorder=4)

        ax.set_xticks(x_ticks)
        ax.set_xticklabels(x_labels)
        ax.set_yticks(y_ticks)
        ax.set_yticklabels(y_labels, rotation=90, va='center')
        # bottom row labels and left-column y labels fall outside the picture
        ax.tick_params(axis='x', direction='out', length=8.6, width=1.5,
                       pad=10, labelsize=17, labelbottom=(r < 4))
        ax.tick_params(axis='y', direction='out', length=13.5, width=1.5,
                       pad=21, labelsize=17, labelleft=(c == 1))
        for s in ax.spines.values():
            s.set_linewidth(1.5)

fig.savefig('out.png', dpi=100, facecolor=bg)
